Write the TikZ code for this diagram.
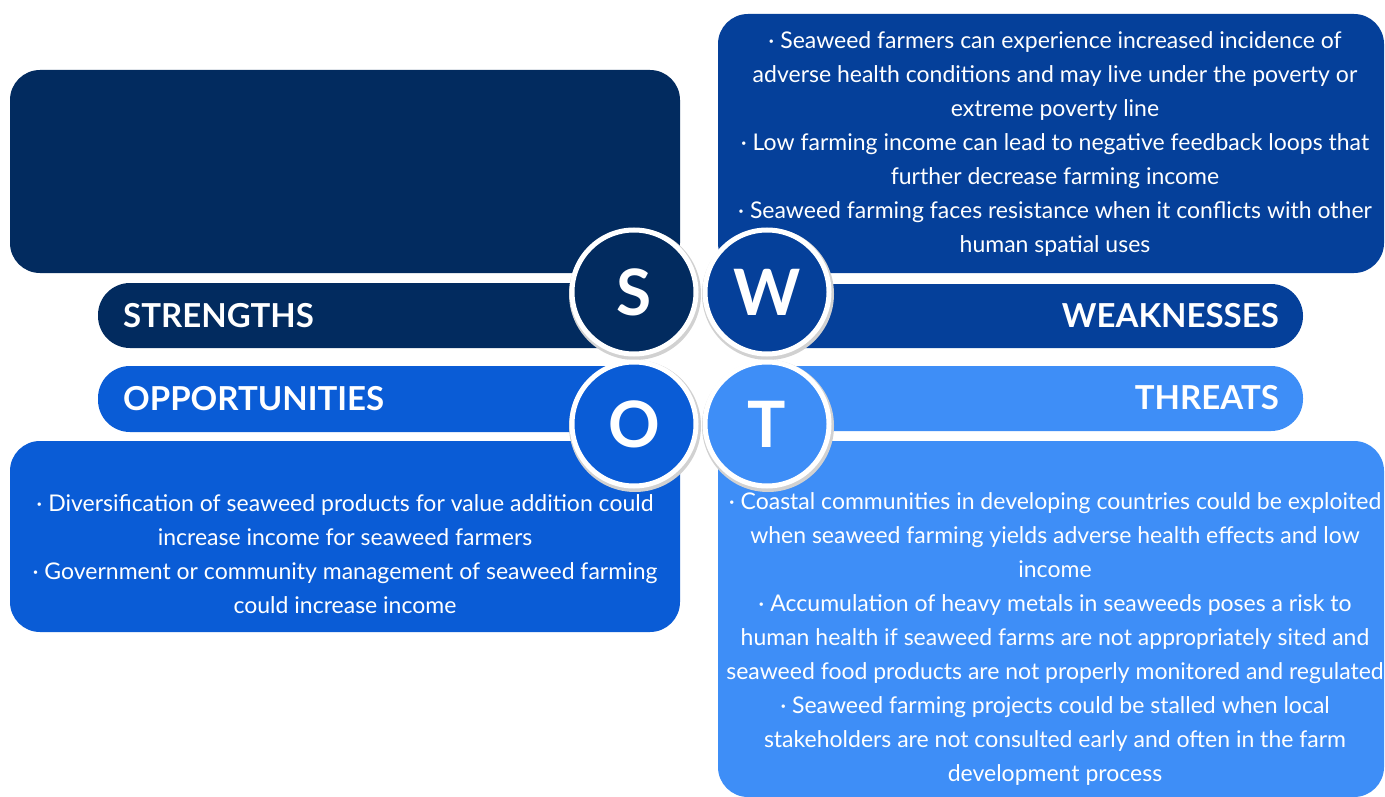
\documentclass[tikz,border=0pt]{standalone}
\usepackage{fontspec}
\setmainfont{Lato}
\definecolor{cS}{HTML}{022B5F}
\definecolor{cW}{HTML}{05409A}
\definecolor{cO}{HTML}{0A5CD6}
\definecolor{cT}{HTML}{3E8EF7}
\tikzset{
  body/.style={text=white, align=center, font=\fontsize{23}{34}\selectfont, inner sep=0pt},
  head/.style={text=white, font=\bfseries\fontsize{33}{36}\selectfont, inner sep=0pt},
  letter/.style={circle, minimum size=124pt, line width=5pt, draw=white, text=white, font=\bfseries\fontsize{64}{64}\selectfont, inner sep=0pt},
  shadowc/.style={fill=black!18},
}
\begin{document}
\begin{tikzpicture}[x=1pt,y=-1pt]
\useasboundingbox (0,0) rectangle (1385,797);
\fill[white] (0,0) rectangle (1385,797);
% big boxes
\fill[cS, rounded corners=30pt] (10,70) rectangle (680,273);
\fill[cW, rounded corners=30pt] (718,14) rectangle (1384,273);
\fill[cO, rounded corners=30pt] (10,441) rectangle (680,632);
\fill[cT, rounded corners=30pt] (718,441) rectangle (1384,797);
% label bars
\fill[cS, rounded corners=32pt] (98,283) rectangle (640,348);
\fill[cW, rounded corners=32pt] (760,284) rectangle (1303,348);
\fill[cO, rounded corners=32pt] (98,366) rectangle (640,432);
\fill[cT, rounded corners=32pt] (760,366) rectangle (1303,431);
% headings
\node[head, anchor=west] (hs) at (123,316) {STRENGTHS};
\node[head, anchor=east] (hw) at (1279,316) {WEAKNESSES};
\node[head, anchor=west] (ho) at (123,399) {OPPORTUNITIES};
\node[head, anchor=east] (ht) at (1279,398) {THREATS};
% circle shadows
\foreach \x/\y in {634/292, 767/292, 634/424, 767/424}
  \fill[shadowc] (\x+1,\y+2) circle (66);
% circles
\node[letter, fill=cS] (s) at (634,292) {S};
\node[letter, fill=cW] (w) at (767,292) {W};
\node[letter, fill=cO] (o) at (634,424) {O};
\node[letter, fill=cT] (t) at (767,424) {T};
% texts
\node[body] (tw) at (1055,144) {· Seaweed farmers can experience increased incidence of\\adverse health conditions and may live under the poverty or\\extreme poverty line\\· Low farming income can lead to negative feedback loops that\\further decrease farming income\\· Seaweed farming faces resistance when it conflicts with other\\human spatial uses};
\node[body] (to) at (345,554) {· Diversification of seaweed products for value addition could\\increase income for seaweed farmers\\· Government or community management of seaweed farming\\could increase income};
\node[body] (tt) at (1055,639) {· Coastal communities in developing countries could be exploited\\when seaweed farming yields adverse health effects and low\\income\\· Accumulation of heavy metals in seaweeds poses a risk to\\human health if seaweed farms are not appropriately sited and\\seaweed food products are not properly monitored and regulated\\· Seaweed farming projects could be stalled when local\\stakeholders are not consulted early and often in the farm\\development process};
\end{tikzpicture}
\end{document}
